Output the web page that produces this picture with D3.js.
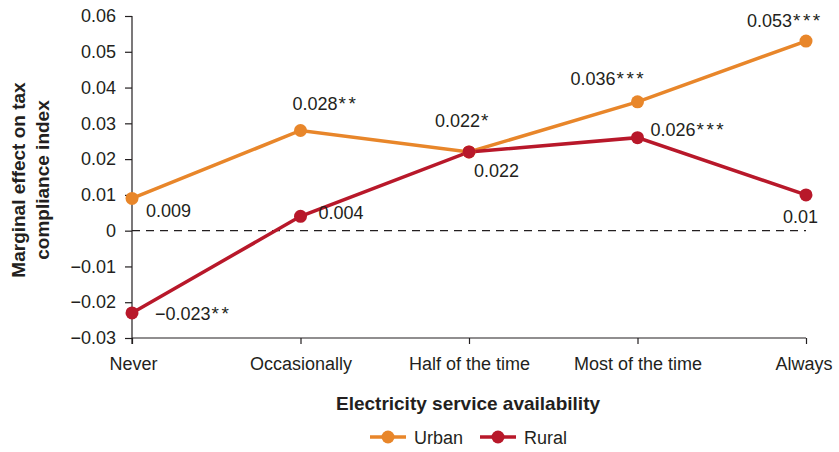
<!DOCTYPE html>
<html>
<head>
<meta charset="utf-8">
<script src="https://cdn.jsdelivr.net/npm/d3@7"></script>
<style>
body{margin:0;background:#fff;}
text{font-family:"Liberation Sans",Arial,sans-serif;fill:#231f20;}
</style>
</head>
<body>
<svg id="chart" width="839" height="452"></svg>
<script>
const categories = ["Never","Occasionally","Half of the time","Most of the time","Always"];
const urbanValues = [0.009, 0.028, 0.022, 0.036, 0.053];
const urbanLabels = ["0.009","0.028**","0.022*","0.036***","0.053***"];
const ruralValues = [-0.023, 0.004, 0.022, 0.026, 0.010];
const ruralLabels = ["\u22120.023**","0.004","0.022","0.026***","0.01"];
const yTicks = [-0.03,-0.02,-0.01,0,0.01,0.02,0.03,0.04,0.05,0.06];
const seriesNames = ["Urban","Rural"];
const colors = {Urban:"#e8862a", Rural:"#b8182a"};

// label placement (style, not data): dx, dy, anchor
const urbanLabelPos = [[14,19,"start"],[-8,-20,"start"],[22,-25,"end"],[-67,-17,"start"],[-59,-14,"start"]];
const ruralLabelPos = [[23,7,"start"],[18,3,"start"],[5,25,"start"],[13,-2,"start"],[12,28,"end"]];

const svg = d3.select("#chart");
const x = d3.scalePoint().domain(categories).range([132, 806]);
const y = d3.scaleLinear().domain([-0.03, 0.06]).range([338, 16]);

const fmt = v => v === 0 ? "0" : (v < 0 ? "\u2212" + d3.format(".2f")(-v) : d3.format(".2f")(v));

// Y axis
const yAxis = svg.append("g").attr("transform","translate(132,0)")
  .call(d3.axisLeft(y).tickValues(yTicks).tickFormat(fmt).tickSize(7).tickPadding(9));
yAxis.select(".domain").attr("d","M0,16V344").attr("stroke","#231f20").attr("stroke-width",1.2);
yAxis.selectAll(".tick line").attr("stroke","#231f20").attr("stroke-width",1.2);
yAxis.selectAll(".tick text").attr("font-size",18).attr("font-family","Liberation Sans, Arial, sans-serif").attr("fill","#231f20");

// X axis
const xAxis = svg.append("g").attr("transform","translate(0,338)")
  .call(d3.axisBottom(x).tickSize(6).tickPadding(13));
xAxis.select(".domain").attr("d","M132,0H806").attr("stroke","#231f20").attr("stroke-width",1.2);
xAxis.selectAll(".tick line").attr("stroke","#231f20").attr("stroke-width",1.2);
xAxis.selectAll(".tick text").attr("font-size",18).attr("font-family","Liberation Sans, Arial, sans-serif").attr("fill","#231f20");
xAxis.selectAll(".tick text").filter(d => d === "Never").attr("text-anchor","start").attr("x",-23);
xAxis.selectAll(".tick text").filter(d => d === "Always").attr("text-anchor","end").attr("x",26);

// zero dashed line
svg.append("line").attr("x1",132).attr("x2",806).attr("y1",y(0)).attr("y2",y(0))
  .attr("stroke","#231f20").attr("stroke-width",1.1).attr("stroke-dasharray","8,6");

// axis titles
const yt = svg.append("text").attr("transform","translate(0,180) rotate(-90)")
  .attr("text-anchor","middle").attr("font-weight","bold").attr("font-size",19);
yt.append("tspan").attr("x",0).attr("y",25).text("Marginal effect on tax");
yt.append("tspan").attr("x",0).attr("y",49).text("compliance index");

svg.append("text").attr("x",468).attr("y",410).attr("text-anchor","middle")
  .attr("font-weight","bold").attr("font-size",19).text("Electricity service availability");

// series
const series = [
  {name:"Urban", values:urbanValues, labels:urbanLabels, pos:urbanLabelPos},
  {name:"Rural", values:ruralValues, labels:ruralLabels, pos:ruralLabelPos}
];
const line = d3.line().x((d,i)=>x(categories[i])).y(d=>y(d));
series.forEach(s => {
  svg.append("path").datum(s.values).attr("d",line).attr("fill","none")
    .attr("stroke",colors[s.name]).attr("stroke-width",3.5);
});
series.forEach(s => {
  svg.selectAll(null).data(s.values).enter().append("circle")
    .attr("cx",(d,i)=>x(categories[i])).attr("cy",d=>y(d)).attr("r",6.5).attr("fill",colors[s.name]);
});
series.forEach(s => {
  const t = svg.selectAll(null).data(s.values).enter().append("text")
    .attr("x",(d,i)=>x(categories[i]) + s.pos[i][0])
    .attr("y",(d,i)=>y(d) + s.pos[i][1])
    .attr("text-anchor",(d,i)=>s.pos[i][2])
    .attr("font-size",18);
  t.each(function(d,i){
    const lab = s.labels[i];
    const m = lab.match(/^([^*]*)(\**)$/);
    const el = d3.select(this);
    el.append("tspan").text(m[1]);
    if (m[2]) el.append("tspan").attr("font-size",19).attr("letter-spacing",2.5).attr("dx",1).text(m[2]);
  });
});

// legend
const legendX = [370, 480];
seriesNames.forEach((n,i) => {
  const g = svg.append("g").attr("transform",`translate(${legendX[i]},437)`);
  g.append("line").attr("x1",0).attr("x2",36).attr("stroke",colors[n]).attr("stroke-width",3.5);
  g.append("circle").attr("cx",18).attr("r",6.5).attr("fill",colors[n]);
  g.append("text").attr("x",44).attr("y",7).attr("font-size",18).text(n);
});
</script>
</body>
</html>
